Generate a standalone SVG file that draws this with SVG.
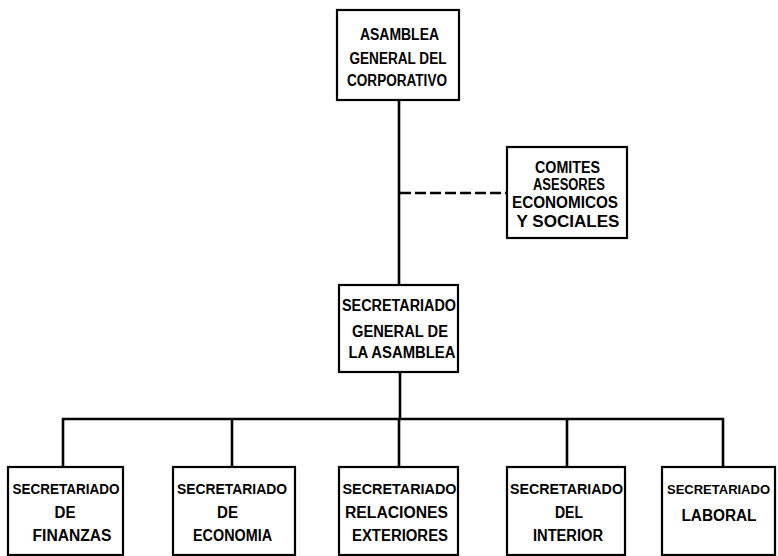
<svg xmlns="http://www.w3.org/2000/svg" width="778" height="556" viewBox="0 0 778 556">
<style>
.box{fill:#fff;stroke:#000;stroke-width:2.2}
.ln{stroke:#000;stroke-width:2.6;fill:none}
.dash{stroke:#000;stroke-width:2.6;fill:none;stroke-dasharray:11 4}
text{font-family:"Liberation Sans",Arial,sans-serif;font-weight:bold;font-size:16px;fill:#000;text-anchor:middle}
text.s{font-size:14.5px}
text.t{font-size:13px}
</style>
<rect width="778" height="556" fill="#fff"/>
<g id="connectors">
<line class="ln" x1="399" y1="100" x2="399" y2="285"/>
<line class="dash" x1="400" y1="193" x2="507" y2="193"/>
<line class="ln" x1="400" y1="372" x2="400" y2="420"/>
<line class="ln" x1="62" y1="419" x2="724" y2="419"/>
<line class="ln" x1="63" y1="418" x2="63" y2="467"/>
<line class="ln" x1="232" y1="418" x2="232" y2="467"/>
<line class="ln" x1="399" y1="418" x2="399" y2="467"/>
<line class="ln" x1="567" y1="418" x2="567" y2="467"/>
<line class="ln" x1="723" y1="418" x2="723" y2="467"/>
</g>
<g id="asamblea">
<rect class="box" x="337" y="10" width="122" height="90"/>
<text x="399.5" y="40" textLength="79" lengthAdjust="spacingAndGlyphs">ASAMBLEA</text>
<text x="398" y="64" textLength="97" lengthAdjust="spacingAndGlyphs">GENERAL DEL</text>
<text x="397" y="86" textLength="100" lengthAdjust="spacingAndGlyphs">CORPORATIVO</text>
</g>
<g id="comites">
<rect class="box" x="507" y="147" width="120" height="91"/>
<text x="567.5" y="173" textLength="65" lengthAdjust="spacingAndGlyphs">COMITES</text>
<text x="569" y="190" textLength="72" lengthAdjust="spacingAndGlyphs">ASESORES</text>
<text x="565" y="208" textLength="106" lengthAdjust="spacingAndGlyphs">ECONOMICOS</text>
<text x="568" y="227" textLength="103" lengthAdjust="spacingAndGlyphs">Y SOCIALES</text>
</g>
<g id="secretariado-general">
<rect class="box" x="339" y="285" width="119" height="87"/>
<text x="399" y="311" textLength="114" lengthAdjust="spacingAndGlyphs">SECRETARIADO</text>
<text x="400" y="337" textLength="96" lengthAdjust="spacingAndGlyphs">GENERAL DE</text>
<text x="402" y="358" textLength="107" lengthAdjust="spacingAndGlyphs">LA ASAMBLEA</text>
</g>
<g id="finanzas">
<rect class="box" x="8" y="467" width="115" height="88"/>
<text class="s" x="66" y="494" textLength="107" lengthAdjust="spacingAndGlyphs">SECRETARIADO</text>
<text x="65" y="518" textLength="21" lengthAdjust="spacingAndGlyphs">DE</text>
<text x="72" y="541" textLength="79" lengthAdjust="spacingAndGlyphs">FINANZAS</text>
</g>
<g id="economia">
<rect class="box" x="173" y="467" width="122" height="88"/>
<text class="s" x="232" y="494" textLength="110" lengthAdjust="spacingAndGlyphs">SECRETARIADO</text>
<text x="227.5" y="518" textLength="21" lengthAdjust="spacingAndGlyphs">DE</text>
<text x="232.5" y="541" textLength="79" lengthAdjust="spacingAndGlyphs">ECONOMIA</text>
</g>
<g id="relaciones">
<rect class="box" x="339" y="467" width="119" height="88"/>
<text class="s" x="399.5" y="494" textLength="114" lengthAdjust="spacingAndGlyphs">SECRETARIADO</text>
<text x="396.5" y="518" textLength="103" lengthAdjust="spacingAndGlyphs">RELACIONES</text>
<text x="400" y="541" textLength="96" lengthAdjust="spacingAndGlyphs">EXTERIORES</text>
</g>
<g id="interior">
<rect class="box" x="507" y="467" width="118" height="88"/>
<text class="s" x="566.5" y="494" textLength="113" lengthAdjust="spacingAndGlyphs">SECRETARIADO</text>
<text x="569" y="518" textLength="28" lengthAdjust="spacingAndGlyphs">DEL</text>
<text x="568" y="541" textLength="70" lengthAdjust="spacingAndGlyphs">INTERIOR</text>
</g>
<g id="laboral">
<rect class="box" x="662" y="467" width="113" height="88"/>
<text class="t" x="718.5" y="494" textLength="103" lengthAdjust="spacingAndGlyphs">SECRETARIADO</text>
<text x="719" y="521" textLength="75" lengthAdjust="spacingAndGlyphs">LABORAL</text>
</g>
</svg>
